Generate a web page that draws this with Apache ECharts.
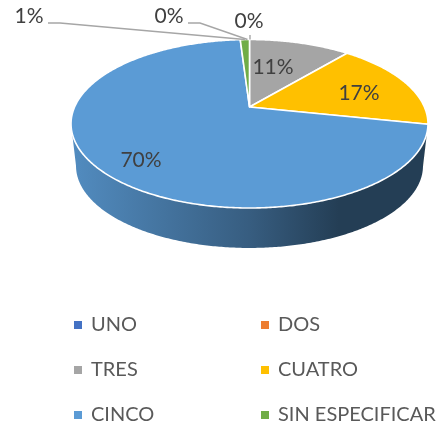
<!DOCTYPE html>
<html>
<head>
<meta charset="utf-8">
<style>
  html, body { margin: 0; padding: 0; background: #ffffff; }
  #chart { width: 441px; height: 430px; }
</style>
</head>
<body>
<div id="chart"></div>
<script src="https://cdn.jsdelivr.net/npm/echarts@6/dist/echarts.min.js"></script>
<script>
// datos (porcentajes)
var categories = ["UNO", "DOS", "TRES", "CUATRO", "CINCO", "SIN ESPECIFICAR"];
var values = [0, 0, 11, 17, 70, 1];
var colors = ["#4472C4", "#ED7D31", "#A5A5A5", "#FFC000", "#5B9BD5", "#70AD47"];

// pie drawn in perspective: disc -> screen projection
var view = { cx: 249.5, cy: 107, ax: 174.9, ay: 80.9, p: 0.199 };
var wall = { midY: 124, scale: 0.972, drop: 42.3 };
var font = "Lato, 'Noto Sans', sans-serif";

// label place per category, leader = bend point for outside labels
var labelPlaces = [
  { x: 169, y: 16, leader: [[188, 23], [200, 23]], endDx: -2 },
  { x: 249, y: 21, leader: [[250, 35]], endDx: 0.5 },
  { x: 273, y: 67 },
  { x: 359, y: 93 },
  { x: 141, y: 160 },
  { x: 29, y: 16, leader: [[48, 23], [60, 23]], endDx: 0 }
];

var total = values.reduce(function (a, b) { return a + b; }, 0);
var starts = [];
values.reduce(function (acc, v, i) { starts[i] = acc; return acc + v; }, 0);

function angle(v) { return v / total * Math.PI * 2; }

function project(t) {
  var u = Math.sin(t), v = -Math.cos(t);
  var d = 1 - view.p * v;
  return [view.cx + view.ax * u / d, view.cy + view.ay * v / d];
}

function projectLow(t) {
  var q = project(t);
  return [
    view.cx + (q[0] - view.cx) * wall.scale,
    wall.midY + (q[1] - wall.midY) * wall.scale + wall.drop
  ];
}

function arc(fn, a, b) {
  var n = Math.max(2, Math.ceil((b - a) / 0.01));
  var pts = [];
  for (var i = 0; i <= n; i++) pts.push(fn(a + (b - a) * i / n));
  return pts;
}

// darken a colour, k = 1 keeps it
function shade(color, k) {
  var c = echarts.color.parse(color);
  return "rgb(" + Math.round(c[0] * k) + "," + Math.round(c[1] * k) + "," + Math.round(c[2] * k) + ")";
}

function renderSlice(idx, params, api) {
  var val = api.value(0);
  var a = angle(starts[idx]), b = a + angle(val);
  var color = colors[idx];
  var kids = [];

  if (val > 0) {
    // side wall, only the front part of the rim can be seen
    var frontA = Math.PI - Math.acos(view.p), frontB = Math.PI + Math.acos(view.p);
    var w0 = Math.max(a, frontA), w1 = Math.min(b, frontB);
    if (w1 > w0) {
      var wallPts = arc(project, w0, w1).concat(arc(projectLow, w0, w1).reverse());
      kids.push({
        type: "polygon",
        shape: { points: wallPts },
        style: {
          fill: new echarts.graphic.LinearGradient(0, 0, 1, 0, [
            { offset: 0, color: shade(color, 0.9) },
            { offset: 0.5, color: shade(color, 0.6) },
            { offset: 0.75, color: shade(color, 0.4) },
            { offset: 1, color: shade(color, 0.4) }
          ])
        }
      });
    }
    kids.push({
      type: "polygon",
      z2: 2,
      shape: { points: [[view.cx, view.cy]].concat(arc(project, a, b)) },
      style: { fill: color, stroke: "#ffffff", lineWidth: 1.6, lineJoin: "round" }
    });
  }

  var place = labelPlaces[idx];
  if (place.leader) {
    var end = project((a + b) / 2);
    kids.push({
      type: "polyline",
      z2: 3,
      shape: { points: place.leader.concat([[end[0] + place.endDx, end[1]]]) },
      style: { fill: null, stroke: "#A6A6A6", lineWidth: 1.4 }
    });
  }
  kids.push({
    type: "text",
    z2: 4,
    x: place.x,
    y: place.y,
    style: {
      text: val + "%",
      fill: "#404040",
      font: "21px " + font,
      align: "center",
      verticalAlign: "middle"
    }
  });
  return { type: "group", children: kids };
}

var chart = echarts.init(document.getElementById("chart"));

function legendCol(names, left) {
  return {
    data: names,
    orient: "vertical",
    left: left,
    top: 315,
    padding: 0,
    icon: "rect",
    itemWidth: 8,
    itemHeight: 8,
    itemGap: 25,
    selectedMode: false,
    textStyle: { color: "#595959", fontSize: 20, fontFamily: font, lineHeight: 20, padding: [0, 0, 0, 4] }
  };
}

chart.setOption({
  animation: false,
  backgroundColor: "#ffffff",
  legend: [
    legendCol([categories[0], categories[2], categories[4]], 74),
    legendCol([categories[1], categories[3], categories[5]], 261)
  ],
  series: categories.map(function (name, i) {
    return {
      type: "custom",
      name: name,
      coordinateSystem: "none",
      itemStyle: { color: colors[i] },
      data: [values[i]],
      renderItem: function (params, api) { return renderSlice(i, params, api); }
    };
  })
});
</script>
</body>
</html>
